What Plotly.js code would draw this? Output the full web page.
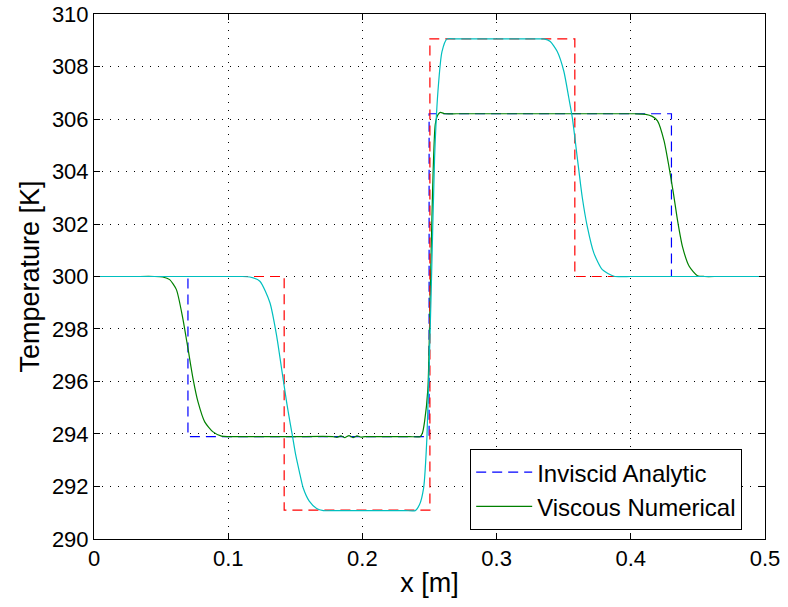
<!DOCTYPE html>
<html>
<head>
<meta charset="utf-8">
<script src="https://cdn.plot.ly/plotly-3.0.1.min.js"></script>
<style>html,body{margin:0;padding:0;background:#fff;}#chart{width:788px;height:607px;}</style>
</head>
<body>
<div id="chart"></div>
<script>
// Inviscid analytic (first time) - blue dashed
const blueX = [0, 0.0700, 0.0700, 0.2497, 0.2497, 0.4303, 0.4303, 0.5];
const blueT = [300, 300, 293.9, 293.9, 306.2, 306.2, 300, 300];

// Viscous numerical (first time) - green solid
const greenX = [0, 0.03, 0.045, 0.0512, 0.0564, 0.0614, 0.0663, 0.0701, 0.0738, 0.0775, 0.0825, 0.0887, 0.095, 0.10, 0.12, 0.15,
  0.178, 0.181, 0.184, 0.187, 0.190, 0.193, 0.196, 0.199, 0.202, 0.22, 0.235,
  0.2431, 0.2448, 0.2463, 0.2488, 0.2506, 0.2523, 0.2543, 0.2562, 0.258, 0.2616, 0.27, 0.30, 0.35, 0.39, 0.403,
  0.4111, 0.4160, 0.4199, 0.4248, 0.4285, 0.4318, 0.4348, 0.4385, 0.4435, 0.4497, 0.455, 0.465, 0.48, 0.5];
const greenT = [300, 300, 300, 299.98, 299.88, 299.5, 298.37, 297.23, 296.10, 295.22, 294.46, 294.08, 293.92, 293.9, 293.9, 293.9,
  293.9, 293.87, 293.93, 293.86, 293.94, 293.86, 293.93, 293.88, 293.9, 293.9, 293.9,
  293.9, 294.05, 294.46, 295.72, 299.5, 303.28, 305.8, 306.15, 306.25, 306.2, 306.2, 306.2, 306.2, 306.2, 306.2,
  306.18, 306.1, 305.93, 305.17, 304.17, 303.16, 302.15, 301.14, 300.39, 300.03, 300, 300, 300, 300];

// Inviscid analytic (second time) - red dashed
const redX = [0, 0.1417, 0.1417, 0.2503, 0.2503, 0.3583, 0.3583, 0.5];
const redT = [300, 300, 291.1, 291.1, 309.05, 309.05, 300, 300];

// Viscous numerical (second time) - cyan solid
const cyanX = [0, 0.05, 0.09, 0.105, 0.11, 0.1161, 0.1236, 0.1311, 0.1361, 0.1398, 0.1435, 0.146, 0.148, 0.1503, 0.153, 0.1559, 0.1604, 0.1659, 0.1709, 0.18, 0.20, 0.22, 0.232,
  0.2394, 0.2425, 0.2456, 0.2481, 0.2513, 0.2538, 0.2563, 0.2593, 0.263, 0.27, 0.29, 0.31, 0.325,
  0.3352, 0.340, 0.3452, 0.3501, 0.3538, 0.3564, 0.3601, 0.3638, 0.3676, 0.3725, 0.3788, 0.3875, 0.40, 0.42, 0.45, 0.5];
const cyanT = [300, 300, 300, 300, 300, 299.98, 299.82, 299.0, 297.74, 296.48, 295.22, 294.46, 293.89, 293.2, 292.57, 291.94, 291.44, 291.16, 291.08, 291.08, 291.08, 291.08, 291.08,
  291.08, 291.3, 291.94, 293.89, 299.5, 304.54, 307.06, 308.57, 309.05, 309.05, 309.05, 309.05, 309.05,
  309.05, 308.95, 308.57, 307.82, 306.81, 306.06, 304.54, 303.03, 301.9, 300.89, 300.26, 300.01, 300, 300, 300, 300];

const xTicks = [0, 0.1, 0.2, 0.3, 0.4, 0.5];
const xTickText = ['0', '0.1', '0.2', '0.3', '0.4', '0.5'];
const yTicks = [290, 292, 294, 296, 298, 300, 302, 304, 306, 308, 310];

const FONT = 'Liberation Sans, Arial, Helvetica, sans-serif';
const dashPat = '10px,6px';

const traces = [
  {x: blueX, y: blueT, mode: 'lines', name: 'Inviscid Analytic',
   line: {color: '#0000ff', width: 1.2, dash: dashPat}},
  {x: greenX, y: greenT, mode: 'lines', name: 'Viscous Numerical',
   line: {color: '#008000', width: 1.2, shape: 'spline', smoothing: 0.6}},
  {x: redX, y: redT, mode: 'lines', name: 'Inviscid Analytic 2', showlegend: false,
   line: {color: '#ff0000', width: 1.2, dash: dashPat}},
  {x: cyanX, y: cyanT, mode: 'lines', name: 'Viscous Numerical 2', showlegend: false,
   line: {color: '#00bfbf', width: 1.2, shape: 'spline', smoothing: 0.6}}
];

const axisCommon = {
  showline: true, linecolor: '#000', linewidth: 1, mirror: 'ticks',
  ticks: 'inside', ticklen: 6, tickcolor: '#000', tickwidth: 1,
  showgrid: true, gridcolor: '#000', gridwidth: 1, griddash: '1px,7px',
  zeroline: false, ticklabeloverflow: 'allow',
  tickfont: {family: FONT, size: 22, color: '#000'}
};

const layout = {
  width: 788, height: 607,
  margin: {l: 94, r: 23, t: 14, b: 68},
  paper_bgcolor: '#fff', plot_bgcolor: '#fff',
  showlegend: true,
  xaxis: Object.assign({}, axisCommon, {
    range: [-0.00001, 0.50001], tickvals: xTicks, ticktext: xTickText,
    title: {text: 'x [m]', font: {family: FONT, size: 27, color: '#000'}, standoff: 2}
  }),
  yaxis: Object.assign({}, axisCommon, {
    range: [289.999, 310.001], tickvals: yTicks,
    title: {text: 'Temperature [K]', font: {family: FONT, size: 27, color: '#000'}, standoff: 4}
  }),
  legend: {
    x: 0.966, xanchor: 'right', y: 0.017, yanchor: 'bottom',
    bgcolor: '#fff', bordercolor: '#000', borderwidth: 1,
    font: {family: FONT, size: 24, color: '#000'},
    itemwidth: 56, tracegroupgap: 0
  }
};

Plotly.newPlot('chart', traces, layout, {staticPlot: true, displayModeBar: false});
</script>
</body>
</html>
